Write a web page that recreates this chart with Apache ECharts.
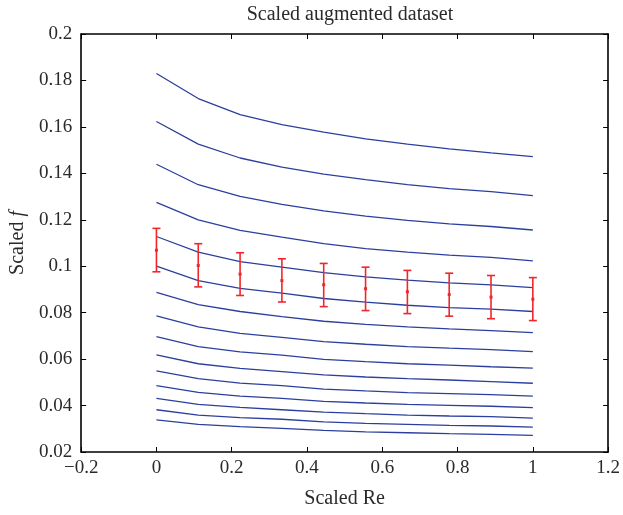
<!DOCTYPE html>
<html>
<head>
<meta charset="utf-8">
<script src="https://cdn.jsdelivr.net/npm/echarts@6/dist/echarts.min.js"></script>
<style>
  html, body { margin: 0; padding: 0; background: #fff; }
  #chart { width: 623px; height: 515px; }
</style>
</head>
<body>
<div id="chart"></div>
<script>
// Scaled Reynolds number sample positions
const scaledRe = [0, 0.1111, 0.2222, 0.3333, 0.4444, 0.5556, 0.6667, 0.7778, 0.8889, 1];

// Scaled friction factor curves, top to bottom
const f01 = [0.1830, 0.1722, 0.1653, 0.1610, 0.1577, 0.1548, 0.1526, 0.1505, 0.1488, 0.1472];
const f02 = [0.1623, 0.1526, 0.1466, 0.1427, 0.1397, 0.1373, 0.1351, 0.1334, 0.1321, 0.1304];
const f03 = [0.1439, 0.1351, 0.1301, 0.1266, 0.1238, 0.1216, 0.1197, 0.1182, 0.1171, 0.1156];
const f04 = [0.1275, 0.1200, 0.1154, 0.1125, 0.1097, 0.1076, 0.1061, 0.1048, 0.1038, 0.1023];
const f05 = [0.1128, 0.1061, 0.1020, 0.0996, 0.0972, 0.0954, 0.0940, 0.0928, 0.0920, 0.0908];
const f06 = [0.1000, 0.0938, 0.0905, 0.0884, 0.0861, 0.0845, 0.0832, 0.0822, 0.0815, 0.0805];
const f07 = [0.0887, 0.0835, 0.0805, 0.0783, 0.0763, 0.0750, 0.0739, 0.0730, 0.0723, 0.0714];
const f08 = [0.0786, 0.0739, 0.0711, 0.0694, 0.0675, 0.0664, 0.0654, 0.0647, 0.0641, 0.0632];
const f09 = [0.0697, 0.0654, 0.0631, 0.0617, 0.0599, 0.0589, 0.0580, 0.0574, 0.0567, 0.0561];
const f10 = [0.0618, 0.0580, 0.0560, 0.0546, 0.0532, 0.0523, 0.0516, 0.0510, 0.0503, 0.0496];
const f11 = [0.0549, 0.0516, 0.0497, 0.0486, 0.0471, 0.0463, 0.0456, 0.0451, 0.0447, 0.0441];
const f12 = [0.0486, 0.0457, 0.0441, 0.0431, 0.0418, 0.0411, 0.0405, 0.0401, 0.0397, 0.0391];
const f13 = [0.0431, 0.0405, 0.0392, 0.0382, 0.0372, 0.0365, 0.0359, 0.0355, 0.0352, 0.0346];
const f14 = [0.0382, 0.0359, 0.0348, 0.0341, 0.0330, 0.0323, 0.0319, 0.0315, 0.0312, 0.0307];
const f15 = [0.0338, 0.0319, 0.0309, 0.0302, 0.0293, 0.0287, 0.0283, 0.0279, 0.0276, 0.0272];
const curves = [f01, f02, f03, f04, f05, f06, f07, f08, f09, f10, f11, f12, f13, f14, f15];

// Mean and spread of the scaled data
const meanF  = [0.1069, 0.1003, 0.0966, 0.0938, 0.0920, 0.0903, 0.0890, 0.0878, 0.0867, 0.0858];
const lowerF = [0.0976, 0.0911, 0.0874, 0.0846, 0.0826, 0.0809, 0.0796, 0.0785, 0.0774, 0.0766];
const upperF = [0.1163, 0.1097, 0.1058, 0.1032, 0.1012, 0.0996, 0.0982, 0.0970, 0.0960, 0.0951];

// Axis ranges and ticks
const xMin = -0.2, xMax = 1.2, xStep = 0.2;
const yMin = 0.02, yMax = 0.2, yStep = 0.02;

const FONT = 'Liberation Serif';
const TEXT_COLOR = '#2a2a2a';
const LINE_COLOR = '#2c3f9e';
const ERR_COLOR = '#f0262a';

const fmt = v => {
  const n = parseFloat(v.toFixed(2));
  return n < 0 ? '\u2212' + Math.abs(n) : String(n);
};

const frame = { show: true, onZero: false, lineStyle: { color: '#000', width: 1.6 } };
const tickIn = { show: true, inside: true, length: 5, lineStyle: { color: '#000', width: 1 } };

const lineSeries = curves.map((c, i) => ({
  type: 'line',
  name: 'curve' + (i + 1),
  data: scaledRe.map((x, k) => [x, c[k]]),
  showSymbol: false,
  symbol: 'none',
  lineStyle: { color: LINE_COLOR, width: 1.3 },
  silent: true,
  z: 2
}));

const errData = scaledRe.map((x, k) => [x, lowerF[k], upperF[k], meanF[k]]);

const errSeries = {
  type: 'custom',
  name: 'spread',
  data: errData,
  encode: { x: 0, y: [1, 2, 3] },
  silent: true,
  z: 5,
  renderItem: (params, api) => {
    const x = api.value(0);
    const lo = api.coord([x, api.value(1)]);
    const hi = api.coord([x, api.value(2)]);
    const m = api.coord([x, api.value(3)]);
    const cap = 4;
    const st = { stroke: ERR_COLOR, lineWidth: 1.6 };
    return {
      type: 'group',
      children: [
        { type: 'line', shape: { x1: lo[0], y1: lo[1], x2: hi[0], y2: hi[1] }, style: st },
        { type: 'line', shape: { x1: lo[0] - cap, y1: lo[1], x2: lo[0] + cap, y2: lo[1] }, style: st },
        { type: 'line', shape: { x1: hi[0] - cap, y1: hi[1], x2: hi[0] + cap, y2: hi[1] }, style: st },
        { type: 'rect', shape: { x: m[0] - 1.5, y: m[1] - 1.5, width: 3, height: 3 }, style: { fill: ERR_COLOR } }
      ]
    };
  }
};

const chart = echarts.init(document.getElementById('chart'), null, { renderer: 'canvas' });
chart.setOption({
  animation: false,
  backgroundColor: '#fff',
  title: {
    text: 'Scaled augmented dataset',
    left: 345,
    top: 0,
    textAlign: 'center',
    textStyle: { fontFamily: FONT, fontSize: 20, fontWeight: 'normal', color: TEXT_COLOR }
  },
  grid: { left: 81, right: 14, top: 34, bottom: 63, containLabel: false },
  xAxis: [
    {
      type: 'value', position: 'bottom',
      min: xMin, max: xMax, interval: xStep,
      name: 'Scaled Re', nameLocation: 'middle', nameGap: 37,
      nameTextStyle: { fontFamily: FONT, fontSize: 20, color: TEXT_COLOR },
      axisLine: frame, axisTick: tickIn, splitLine: { show: false },
      axisLabel: { fontFamily: FONT, fontSize: 19, color: TEXT_COLOR, margin: 7, formatter: fmt }
    },
    {
      type: 'value', position: 'top',
      min: xMin, max: xMax, interval: xStep,
      axisLine: frame, axisTick: tickIn, splitLine: { show: false },
      axisLabel: { show: false }
    }
  ],
  yAxis: [
    {
      type: 'value', position: 'left',
      min: yMin, max: yMax, interval: yStep,
      name: '{a|Scaled }{b|f}', nameLocation: 'middle', nameGap: 52,
      nameTextStyle: {
        fontFamily: FONT, fontSize: 20, color: TEXT_COLOR,
        rich: {
          a: { fontFamily: FONT, fontSize: 20, color: TEXT_COLOR },
          b: { fontFamily: FONT, fontSize: 20, fontStyle: 'italic', color: TEXT_COLOR }
        }
      },
      axisLine: frame, axisTick: tickIn, splitLine: { show: false },
      axisLabel: { fontFamily: FONT, fontSize: 19, color: TEXT_COLOR, margin: 9, formatter: fmt }
    },
    {
      type: 'value', position: 'right',
      min: yMin, max: yMax, interval: yStep,
      axisLine: frame, axisTick: tickIn, splitLine: { show: false },
      axisLabel: { show: false }
    }
  ],
  series: [...lineSeries, errSeries]
});
</script>
</body>
</html>
